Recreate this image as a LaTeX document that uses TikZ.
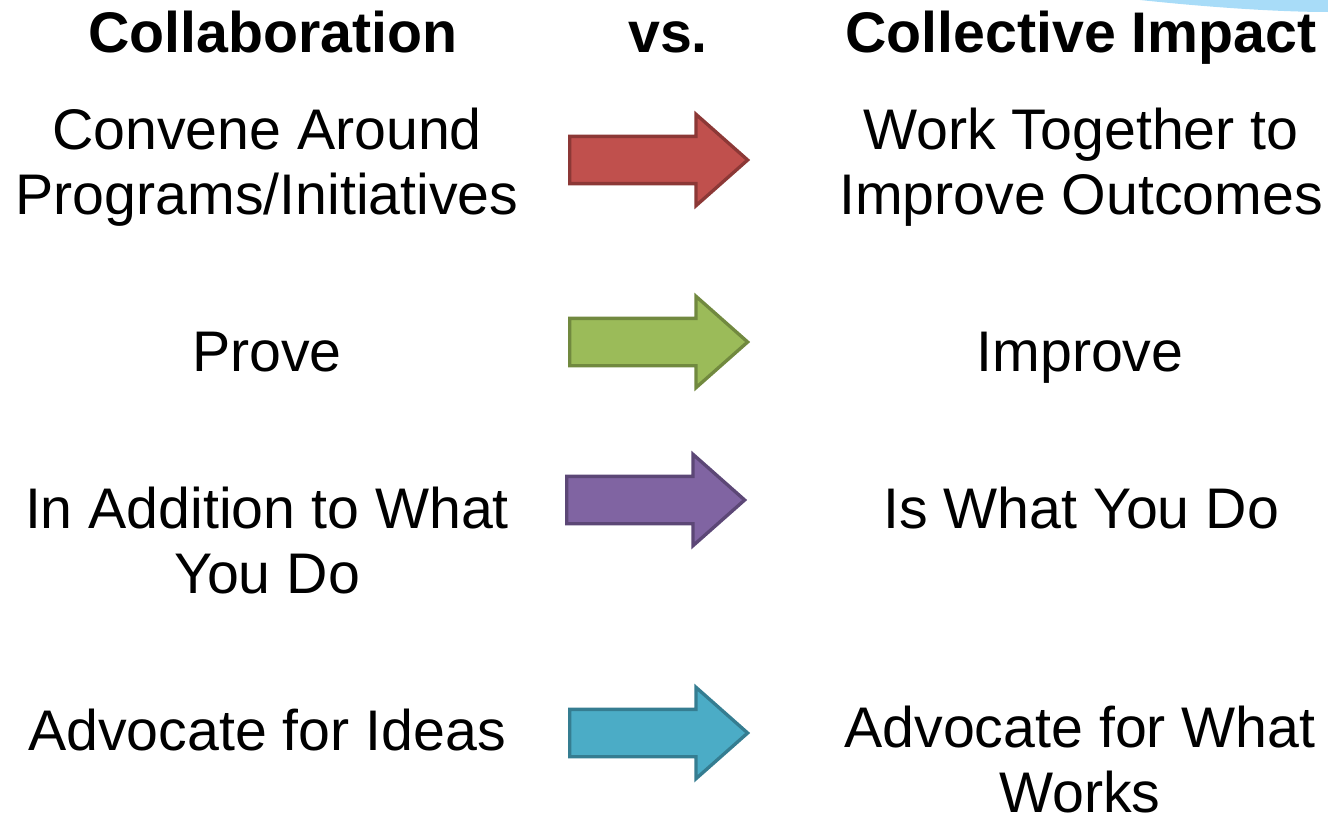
\documentclass[tikz,border=0pt]{standalone}
\usepackage{fontspec}
\setmainfont{Liberation Sans}
\usetikzlibrary{shapes.arrows, positioning}
\definecolor{redarrow}{HTML}{C0504D}
\definecolor{redline}{HTML}{8C3836}
\definecolor{greenarrow}{HTML}{9BBB59}
\definecolor{greenline}{HTML}{71893F}
\definecolor{purplearrow}{HTML}{8064A2}
\definecolor{purpleline}{HTML}{5C4776}
\definecolor{aquaarrow}{HTML}{4BACC6}
\definecolor{aqualine}{HTML}{357D91}
\definecolor{skyband}{HTML}{A8DCF8}
\def\textsize{\fontsize{32.6}{36.8}\selectfont}

\begin{document}
\begin{tikzpicture}[x=0.02cm, y=-0.02cm]
    \tikzstyle{label}=[font=\textsize, align=center, anchor=base, inner sep=0pt]
    \tikzstyle{heading}=[label, font=\textsize\bfseries]
    % empty text: the shaft is 2*inner ysep thick
    \tikzstyle{block}=[single arrow, minimum height=3.56cm, minimum width=1.76cm,
        single arrow head extend=0.44cm, single arrow tip angle=83,
        inner xsep=0pt, inner ysep=0.44cm, line width=1.9pt, anchor=tail]

    \useasboundingbox (0,0) rectangle (1328,818);
    \fill[skyband] (1140,0) .. controls (1225,9) and (1290,12) .. (1328,12) -- (1328,0) -- cycle;

    % column heads
    \node[heading] (collab) at (273,52) {Collaboration};
    \node[heading] (vs) at (668,52) {vs.};
    \node[heading] (impact) at (1081,52) {Collective Impact};

    % block arrows between the two columns
    \foreach \i/\x/\y/\c in {1/568/160/red, 2/568/342/green, 3/565/500/purple, 4/568/733/aqua}{
        \node[block, fill=\c arrow, draw=\c line] (A-\i) at (\x,\y) {};
    }

    % base = baseline of the last line
    \node[label] (L-1) at (267,214) {Convene Around\\Programs/Initiatives};
    \node[label] (R-1) at (1081,214) {Work Together to\\Improve Outcomes};
    \node[label] (L-2) at (267,371) {Prove};
    \node[label] (R-2) at (1080,371) {Improve};
    \node[label] (L-3) at (267,593) {In Addition to What\\You Do};
    \node[label] (R-3) at (1081,528) {Is What You Do};
    \node[label] (L-4) at (267,750) {Advocate for Ideas};
    \node[label] (R-4) at (1080,812) {Advocate for What\\Works};
\end{tikzpicture}
\end{document}
